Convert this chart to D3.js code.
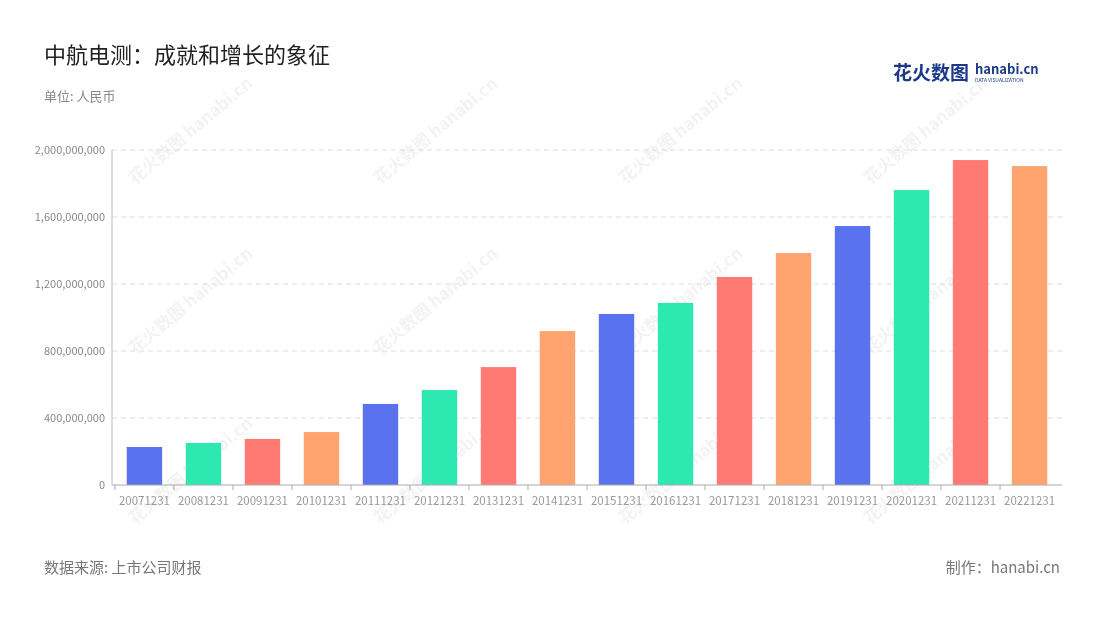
<!DOCTYPE html>
<html><head><meta charset="utf-8">
<script src="https://cdn.jsdelivr.net/npm/d3@7"></script>
<style>body{margin:0;background:#fff;font-family:"Noto Sans CJK SC","Noto Sans",sans-serif;}</style>
</head><body><svg id="c" width="1100" height="620"></svg>
<script>
const years = ["20071231","20081231","20091231","20101231","20111231","20121231","20131231","20141231","20151231","20161231","20171231","20181231","20191231","20201231","20211231","20221231"];
const values = [227e6,251e6,275e6,316e6,484e6,567e6,704e6,919e6,1021e6,1087e6,1242e6,1385e6,1546e6,1761e6,1940e6,1904e6];
const palette = ["#5a72ee","#2de8b1","#ff7a72","#ffa46f"];
const yTicks = [0,400e6,800e6,1200e6,1600e6,2000e6];

const svg = d3.select("#c");
const m = {l:112, r:1062, t:150, b:485};
const x = d3.scaleBand().domain(years).range([m.l, m.r]).paddingInner(0.4).paddingOuter(0.25);
const y = d3.scaleLinear().domain([0,2000e6]).range([m.b, m.t]);

// watermarks
const wm = svg.append("g").attr("opacity",0.06).attr("fill","#333");
[[135,185],[380,185],[625,185],[870,185],[135,355],[380,355],[625,355],[870,355],[135,525],[380,525],[625,525],[870,525]].forEach(([px,py])=>{
  wm.append("text").attr("transform",`translate(${px},${py}) rotate(-40)`)
    .attr("font-size",17).attr("font-weight","bold").text("花火数图 hanabi.cn");
});

svg.append("text").attr("x",44).attr("y",63).attr("font-size",22).attr("fill","#222").text("中航电测：成就和增长的象征");
svg.append("text").attr("x",44).attr("y",101).attr("font-size",13).attr("fill","#888").text("单位: 人民币");

// logo
svg.append("text").attr("x",893).attr("y",80).attr("font-size",19).attr("font-weight","bold").attr("fill","#1d3a8a").text("花火数图");
svg.append("text").attr("x",975).attr("y",74).attr("font-size",13).attr("font-weight","bold").attr("fill","#1d3a8a").text("hanabi.cn");
svg.append("text").attr("x",975).attr("y",82).attr("font-size",5).attr("fill","#1d3a8a").text("DATA VISUALIZATION");

// grid + y axis
svg.append("g").selectAll("line").data(yTicks.slice(1)).join("line")
  .attr("x1",m.l).attr("x2",m.r).attr("y1",d=>y(d)).attr("y2",d=>y(d))
  .attr("stroke","#ddd").attr("stroke-dasharray","5,4");
svg.append("g").selectAll("text").data(yTicks).join("text")
  .attr("x",m.l-7).attr("y",d=>y(d)+4).attr("text-anchor","end")
  .attr("font-size",11).attr("fill","#888").text(d=>d3.format(",")(d));
svg.append("line").attr("x1",m.l).attr("x2",m.l).attr("y1",m.t).attr("y2",m.b).attr("stroke","#bbb");

svg.append("g").selectAll("rect").data(values).join("rect")
  .attr("x",(d,i)=>x(years[i])).attr("width",x.bandwidth())
  .attr("y",d=>y(d)).attr("height",d=>y(0)-y(d))
  .attr("fill",(d,i)=>palette[i%4]);

// x axis
svg.append("line").attr("x1",m.l).attr("x2",m.r).attr("y1",m.b).attr("y2",m.b).attr("stroke","#aaa");
svg.append("g").selectAll("line").data(years).join("line")
  .attr("x1",d=>x(d)-x.step()*x.paddingInner()/2).attr("x2",d=>x(d)-x.step()*x.paddingInner()/2)
  .attr("y1",m.b).attr("y2",m.b+5).attr("stroke","#aaa");
svg.append("g").selectAll("text").data(years).join("text")
  .attr("x",d=>x(d)+x.bandwidth()/2).attr("y",m.b+20).attr("text-anchor","middle")
  .attr("font-size",11.5).attr("fill","#999").text(d=>d);

svg.append("text").attr("x",44).attr("y",573).attr("font-size",15).attr("fill","#777").text("数据来源: 上市公司财报");
svg.append("text").attr("x",1060).attr("y",573).attr("text-anchor","end").attr("font-size",15).attr("fill","#777").text("制作：hanabi.cn");
</script></body></html>
